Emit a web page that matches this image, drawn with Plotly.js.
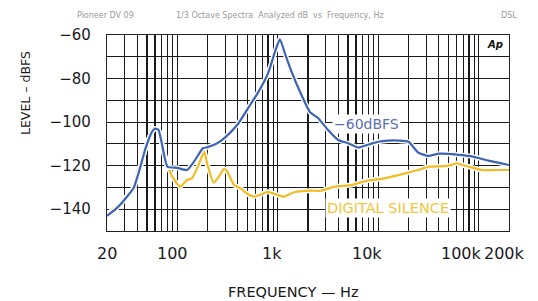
<!DOCTYPE html>
<html>
<head>
<meta charset="utf-8">
<script src="https://cdn.plot.ly/plotly-3.0.1.min.js"></script>
<style>html,body{margin:0;padding:0;background:#fff;}#chart{width:538px;height:301px;}</style>
</head>
<body>
<div id="chart"></div>
<script>
// -60 dBFS tone spectrum (Hz, dBFS)
var freqTone = [20, 25, 30, 37, 43, 48, 56, 60, 65, 70, 80, 100, 125, 150, 180, 200, 250, 300, 400, 500, 630, 800, 950, 1050, 1200, 1350, 1700, 2100, 2500, 3150, 4000, 5000, 6300, 8000, 10000, 12500, 16000, 20000, 25000, 31500, 40000, 50000, 63000, 80000, 100000, 125000, 160000, 200000];
var levelTone = [-143, -139.5, -135.5, -130, -120.5, -112.5, -104.5, -103, -103.5, -109.5, -120.5, -121, -122, -117.5, -112, -111.5, -109.7, -107, -101, -94, -86.8, -77.6, -67, -62, -69.5, -76, -87, -95.5, -98, -103.5, -108.2, -109.7, -111.7, -110.3, -109, -108.5, -108.5, -109, -114, -115.5, -114.5, -114.6, -115, -115.5, -116.5, -117.7, -118.7, -119.7];

// digital silence spectrum (Hz, dBFS)
var freqSilence = [20, 25, 27, 30, 37, 41, 43, 48, 56, 60, 65, 70, 82, 95, 107, 125, 140, 163, 185, 198, 230, 260, 292, 315, 368, 427, 500, 580, 700, 790, 1000, 1160, 1460, 2140, 2700, 3660, 5370, 7900, 11500, 17000, 25000, 31500, 46000, 55000, 60000, 70000, 80000, 107000, 150000, 200000];
var levelSilence = [-142.6, -138.5, -137.3, -135, -130, -121, -120.5, -112.5, -104.5, -103, -103.5, -109.5, -121.2, -127, -129.6, -126.6, -125.8, -119.7, -113.5, -118.9, -127.8, -125, -121.5, -122.8, -128.9, -130.4, -133, -134.2, -133, -132, -133.5, -134.2, -132.2, -131.5, -131.5, -129.6, -128.9, -126.8, -125.8, -124, -122, -120.5, -120.2, -119.5, -118.9, -119.8, -120.5, -122, -122, -122];

var xTickVals = [20, 100, 1000, 10000, 100000, 200000];
var xTickText = ['20', '100', '1k', '10k', '100k', '200k'];
var yTickVals = [-60, -80, -100, -120, -140];
var yTickText = ['\u221260', '\u221280', '\u2212100', '\u2212120', '\u2212140'];

var seriesLabels = ['\u221260dBFS', 'DIGITAL SILENCE'];
var headerLeft = 'Pioneer DV 09';
var headerMid = '1/3 Octave Spectra  Analyzed dB  vs  Frequency, Hz';
var headerRight = 'DSL';

// styling (pixel nudges of the typeset x labels, as in the original print)
var xLabelShift = [0, -5, -6, -11, -17, -5];
var blue = '#3d63b5';
var yellow = '#f2bb22';
var FONT = 'DejaVu Sans, Liberation Sans, sans-serif';

function halo(x, y) {
  return {x: x, y: y, type: 'scatter', mode: 'lines', hoverinfo: 'skip', showlegend: false,
    line: {color: '#ffffff', width: 5, shape: 'spline', smoothing: 0.5}};
}
var traces = [
  halo(freqSilence, levelSilence),
  {x: freqSilence, y: levelSilence, type: 'scatter', mode: 'lines', name: seriesLabels[1], showlegend: false,
    line: {color: yellow, width: 2.2, shape: 'spline', smoothing: 0.5}},
  halo(freqTone, levelTone),
  {x: freqTone, y: levelTone, type: 'scatter', mode: 'lines', name: seriesLabels[0], showlegend: false,
    line: {color: blue, width: 2.2, shape: 'spline', smoothing: 0.5}}
];

var tickFont = {family: FONT, size: 15, color: '#1a1a1a'};

var layout = {
  width: 538, height: 301,
  margin: {l: 107, r: 29, t: 35, b: 70},
  paper_bgcolor: '#ffffff', plot_bgcolor: '#ffffff',
  showlegend: false,
  xaxis: {
    type: 'log', range: [Math.log10(20), Math.log10(200000)],
    tickmode: 'array', tickvals: xTickVals, ticktext: xTickText, showticklabels: false,
    ticks: '',
    showgrid: true, gridcolor: '#1a1a1a', gridwidth: 1.1,
    minor: {dtick: 'D1', showgrid: true, gridcolor: '#1a1a1a', gridwidth: 1.1, ticks: ''},
    showline: true, linecolor: '#222', linewidth: 1.2, mirror: true,
    zeroline: false, fixedrange: true
  },
  yaxis: {
    range: [-150, -60],
    tickmode: 'array', tickvals: yTickVals, ticktext: yTickText,
    tickfont: tickFont, ticks: '', ticklabelstandoff: 12,
    showgrid: false,
    minor: {dtick: 10, tick0: -60, showgrid: true, gridcolor: '#1a1a1a', gridwidth: 1.1, ticks: ''},
    showline: true, linecolor: '#222', linewidth: 1.2, mirror: true,
    zeroline: false, fixedrange: true
  },
  annotations: []
};

function px(xp) { return (xp - layout.margin.l) / (538 - layout.margin.l - layout.margin.r); }
function py(yp) { return 1 - (yp - layout.margin.t) / (301 - layout.margin.t - layout.margin.b); }

// x tick labels, placed on the log axis at their values
for (var k = 0; k < xTickVals.length; k++) {
  layout.annotations.push({text: xTickText[k], x: Math.log10(xTickVals[k]), xref: 'x',
    y: py(253), yref: 'paper', xanchor: 'center', yanchor: 'middle', xshift: xLabelShift[k],
    showarrow: false, font: {family: FONT, size: 16, color: '#1a1a1a'}});
}
// curve labels
layout.annotations.push(
  {text: seriesLabels[0], x: Math.log10(7600), y: -100.7, xref: 'x', yref: 'y', showarrow: false,
    font: {family: FONT, size: 14, color: '#5b6fb8'}, bgcolor: '#ffffff', borderpad: 1},
  {text: seriesLabels[1], x: Math.log10(12500), y: -139.4, xref: 'x', yref: 'y', showarrow: false,
    font: {family: FONT, size: 14.5, color: '#f2c53a'}, bgcolor: '#ffffff', borderpad: 1}
);
// other texts placed by pixel position
var others = [
  ['<b><i>Ap</i></b>', 495, 45, 10, '#111', 0],
  ['FREQUENCY \u2014 Hz', 293, 292, 14.5, '#1a1a1a', 0],
  ['LEVEL \u2013 dBFS', 25, 93, 12.5, '#1a1a1a', -90],
  [headerLeft, 105, 15, 8, '#9a9a9a', 0],
  [headerMid, 280, 15, 8, '#9a9a9a', 0],
  [headerRight, 509, 15, 8, '#9a9a9a', 0]
];
for (var j = 0; j < others.length; j++) {
  var o = others[j];
  layout.annotations.push({text: o[0], x: px(o[1]), y: py(o[2]), xref: 'paper', yref: 'paper',
    xanchor: 'center', yanchor: 'middle', textangle: o[5], showarrow: false,
    font: {family: FONT, size: o[3], color: o[4]}});
}

Plotly.newPlot('chart', traces, layout, {staticPlot: true, displayModeBar: false});
</script>
</body>
</html>
